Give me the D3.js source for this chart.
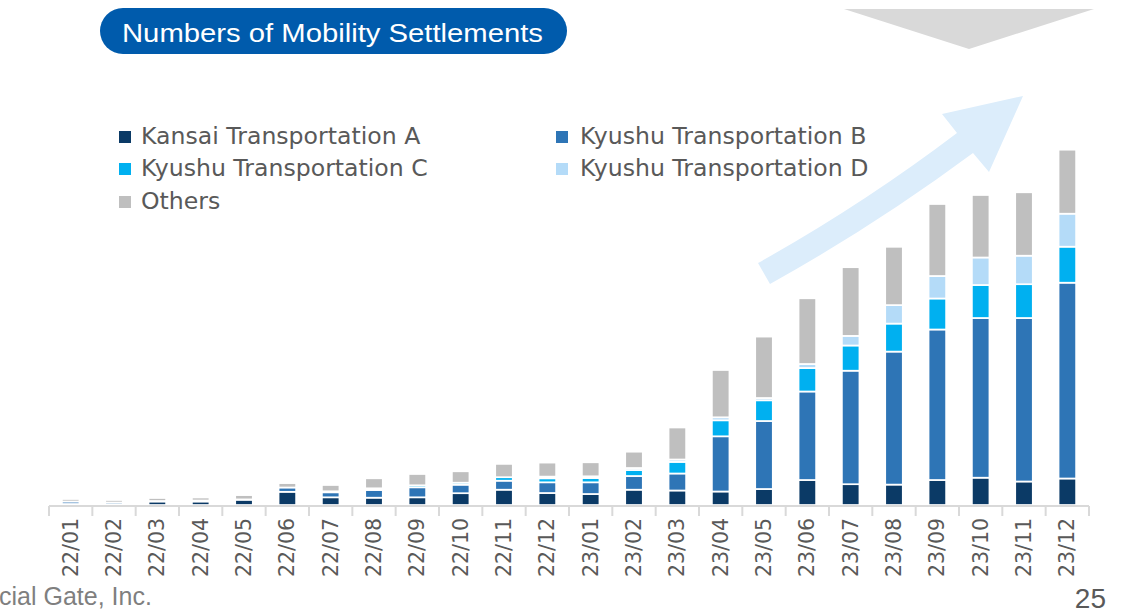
<!DOCTYPE html>
<html><head><meta charset="utf-8">
<script src="https://cdn.jsdelivr.net/npm/d3@7"></script>
<style>html,body{margin:0;padding:0;background:#fff;}svg{display:block;}</style>
</head><body>
<svg id="chart" width="1127" height="613"></svg>
<script>
const months = ["22/01","22/02","22/03","22/04","22/05","22/06","22/07","22/08","22/09","22/10","22/11","22/12",
                "23/01","23/02","23/03","23/04","23/05","23/06","23/07","23/08","23/09","23/10","23/11","23/12"];
const seriesNames = ["Kansai Transportation A","Kyushu Transportation B","Kyushu Transportation C","Kyushu Transportation D","Others"];
const kansaiA  = [1, 0.5, 3.5, 3.5, 5.3, 13.2, 7.7, 7.3, 7.7, 11.8, 15.3, 12, 11, 15.3, 14.5, 13.5, 16, 25, 20.8, 20.4, 25, 27.3, 23.5, 26.5];
const kyushuB  = [2.5, 2, 0.5, 1, 0.3, 4.3, 5, 7.7, 10, 8.5, 9, 10.7, 11.7, 13.7, 17, 55.2, 68, 88.5, 113.5, 133, 150.5, 159.7, 163.5, 195.8];
const kyushuC  = [0, 0, 0, 0, 0, 0, 1, 1.7, 2, 2, 3.5, 4, 4.3, 6, 11.6, 16, 20.7, 23.5, 25.2, 28, 31, 33, 33.8, 36];
const kyushuD  = [0, 0, 0, 0, 0, 0, 0, 0, 0, 0, 0, 1.7, 1.7, 2, 2.4, 3, 2.3, 4, 9.6, 18.5, 22.5, 27.5, 28.5, 33];
const others   = [2.5, 2.5, 3, 3, 4.3, 4.4, 6.3, 10, 11.3, 11.4, 13.3, 14, 14, 16.3, 32, 47.3, 61.4, 65.7, 68.7, 58.3, 72, 62.5, 63.4, 64];
const colors = ["#0b3a66","#2e75b6","#00b0f0","#b4dbf8","#bfbfbf"];

const svg = d3.select("#chart");

// decorative top-right chevron
svg.append("polygon").attr("points","844,9 1094,9 969,49").attr("fill","#d9d9d9");

// title pill
svg.append("rect").attr("x",100).attr("y",8).attr("width",467).attr("height",46).attr("rx",23).attr("fill","#005bac");
svg.append("text").attr("x",122).attr("y",42).attr("fill","#fff")
  .attr("font-family","Liberation Sans, Arial, sans-serif").attr("font-size",26)
  .attr("textLength",421).attr("lengthAdjust","spacingAndGlyphs")
  .text("Numbers of Mobility Settlements");

// growth arrow (decoration)
svg.append("path")
  .attr("d","M758,263 Q862,205 957,133 L942,114 L1023,96 L989,172 L973,153 Q876,225 770,284 Z")
  .attr("fill","#dcedfb");

// scales
const x = d3.scaleBand().domain(months).range([49,1089]).paddingInner(0).paddingOuter(0);
const y = d3.scaleLinear().domain([0,400]).range([505,105]);

const table = months.map((m,i)=>({month:m, A:kansaiA[i], B:kyushuB[i], C:kyushuC[i], D:kyushuD[i], O:others[i]}));
const keys = ["A","B","C","D","O"];
const stacked = d3.stack().keys(keys)(table);

const barW = x.bandwidth()*0.405;
const g = svg.append("g");
g.selectAll("g.series").data(stacked).join("g").attr("class","series")
  .attr("fill",(d,i)=>colors[i])
  .selectAll("rect").data(d=>d).join("rect")
  .attr("x",d=>x(d.data.month)+(x.bandwidth()-barW)/2)
  .attr("width",barW)
  .attr("y",d=>y(d[1]))
  .attr("height",d=>Math.max(0,y(d[0])-y(d[1])))
  .attr("stroke","#fff").attr("stroke-width",1.7);

// axis
const axisG = svg.append("g");
axisG.append("line").attr("x1",x.range()[0]).attr("x2",x.range()[1]).attr("y1",506).attr("y2",506)
  .attr("stroke","#d9d9d9").attr("stroke-width",2);
const bounds = months.map(m=>x(m)).concat([x.range()[1]]);
axisG.selectAll("line.tick").data(bounds).join("line").attr("class","tick")
  .attr("x1",d=>d).attr("x2",d=>d).attr("y1",506).attr("y2",516)
  .attr("stroke","#d9d9d9").attr("stroke-width",2);
axisG.selectAll("text.lab").data(months).join("text").attr("class","lab")
  .attr("transform",d=>`translate(${x(d)+x.bandwidth()/2+7},518) rotate(-90)`)
  .attr("text-anchor","end")
  .attr("font-family","DejaVu Sans, Verdana, sans-serif").attr("font-size",20.5)
  .attr("fill","#595959").text(d=>d);

// legend
const legendPos = [[119,136],[556,136],[119,168],[556,168],[119,201]];
const lg = svg.append("g");
seriesNames.forEach((n,i)=>{
  const [lx,ly] = legendPos[i];
  lg.append("rect").attr("x",lx).attr("y",ly-5).attr("width",12).attr("height",12).attr("fill",colors[i]);
  lg.append("text").attr("x",lx+22+(i%2?2:0)).attr("y",ly+8).attr("fill","#595959")
    .attr("font-family","DejaVu Sans, Verdana, sans-serif").attr("font-size",23.6).text(n);
});

// footer
svg.append("text").attr("x",-1).attr("y",605).attr("fill","#7f7f7f")
  .attr("font-family","Liberation Sans, Arial, sans-serif").attr("font-size",25).text("cial Gate, Inc.");
svg.append("text").attr("x",1106).attr("y",608).attr("text-anchor","end").attr("fill","#595959")
  .attr("font-family","Liberation Sans, Arial, sans-serif").attr("font-size",28).text("25");
</script>
</body></html>
